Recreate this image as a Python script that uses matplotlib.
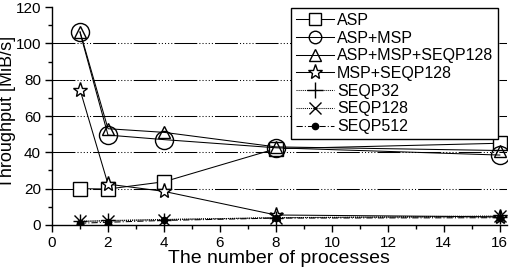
import matplotlib
matplotlib.use("Agg")
import matplotlib.pyplot as plt
from matplotlib.lines import Line2D
from matplotlib.ticker import MultipleLocator

plt.rcParams['font.family'] = ['Liberation Sans', 'DejaVu Sans']

procs = [1, 2, 4, 8, 16]
asp = [20, 19.8, 23.8, 42, 45]
asp_msp = [106, 49.5, 47, 42.5, 38.5]
asp_msp_seqp128 = [106.5, 53, 51, 43, 41]
msp_seqp128 = [74.5, 22.5, 18.5, 5.5, 4.5]
seqp32 = [2, 2.5, 3, 4, 4.5]
seqp128 = [2, 2.2, 3, 4, 5]
seqp512 = [1, 1.5, 2.5, 3.8, 4]

fig = plt.figure(figsize=(5.13, 2.70), dpi=100)
ax = fig.add_axes([0.1014, 0.1667, 0.8866, 0.8073])

lw = 0.75
for y in [20, 40, 60, 80, 100]:
    ax.axhline(y, color='black', lw=lw, zorder=0,
               linestyle=(0, (22, 2, 1, 2, 1, 2, 1, 2, 1, 2, 1, 2)))

series = [
    ("ASP", asp, 's', 10, 'white', '-'),
    ("ASP+MSP", asp_msp, 'o', 13, 'none', '-'),
    ("ASP+MSP+SEQP128", asp_msp_seqp128, '^', 9, 'none', '-'),
    ("MSP+SEQP128", msp_seqp128, '*', 11, 'white', '-'),
    ("SEQP32", seqp32, '+', 10, 'none', (0, (1, 1))),
    ("SEQP128", seqp128, 'x', 8, 'none', (0, (1, 1))),
    ("SEQP512", seqp512, 'o', 4.5, 'black', (0, (6, 2, 1, 2))),
]
handles = []
for name, vals, m, ms, fc, ls in series:
    ax.plot(procs, vals, color='black', lw=lw, linestyle=ls, marker=m,
            markersize=ms, markerfacecolor=fc, markeredgecolor='black',
            markeredgewidth=1.0)
    lms = {'s': 9, 'o': 9, '^': 9, '*': 11, '+': 11, 'x': 8}.get(m, 9)
    if name == "SEQP512":
        lms = 4.5
    handles.append(Line2D([], [], color='black', lw=lw, linestyle=ls, marker=m,
                          markersize=lms, markerfacecolor=fc,
                          markeredgecolor='black', markeredgewidth=1.0,
                          label=name))

leg = ax.legend(handles=handles, loc='upper right', bbox_to_anchor=(0.981, 0.995),
                borderaxespad=0,
                fontsize=11.5, frameon=True, fancybox=False, framealpha=1,
                edgecolor='black', handlelength=2.4, handletextpad=0.2,
                labelspacing=0.17, borderpad=0.3)
leg.get_frame().set_linewidth(1.0)

ax.set_xlim(0, 16.25)
ax.set_ylim(0, 120)
ax.xaxis.set_major_locator(MultipleLocator(2))
ax.xaxis.set_minor_locator(MultipleLocator(1))
ax.yaxis.set_major_locator(MultipleLocator(20))
ax.yaxis.set_minor_locator(MultipleLocator(10))
ax.tick_params(which='major', direction='out', length=5, width=1, labelsize=11,
               colors='black', pad=3)
ax.tick_params(which='minor', direction='out', length=3, width=1)
ax.spines['top'].set_visible(False)
ax.spines['right'].set_visible(False)
for s in ['left', 'bottom']:
    ax.spines[s].set_linewidth(1.0)

ax.set_xlabel("The number of processes", fontsize=14, labelpad=0)
ax.set_ylabel("Throughput [MiB/s]", fontsize=13)
ax.yaxis.set_label_coords(-0.079, 0.52)

fig.savefig("out.png", dpi=100)
